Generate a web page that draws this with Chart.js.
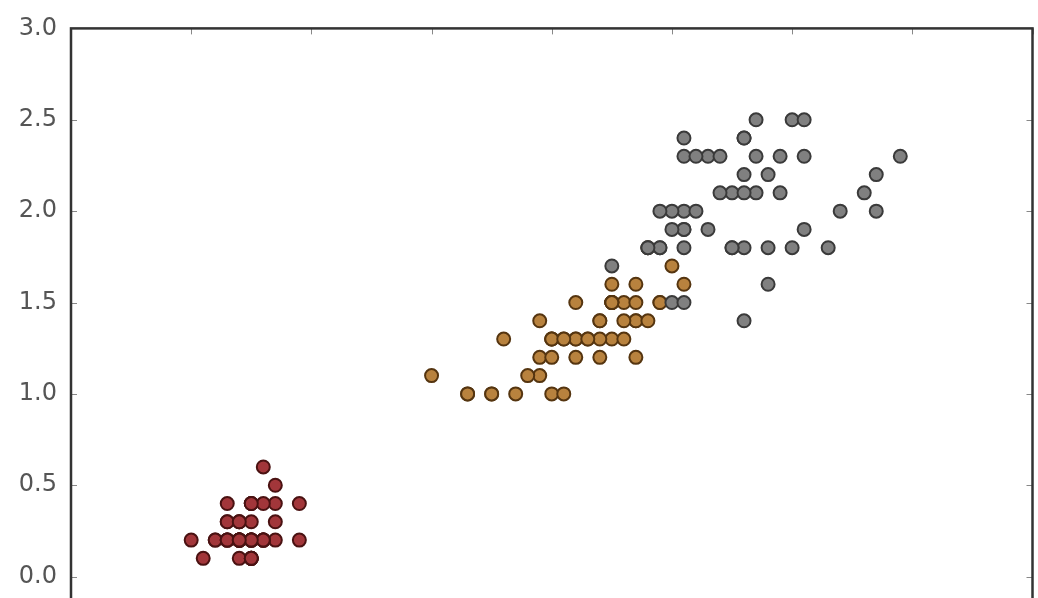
<!DOCTYPE html>
<html>
<head>
<meta charset="utf-8">
<script src="https://cdn.jsdelivr.net/npm/chart.js@4/dist/chart.umd.min.js"></script>
<style>
  html, body { margin: 0; padding: 0; background: #fff; overflow: hidden; }
  #wrap { width: 1038px; height: 598px; overflow: hidden; }
</style>
</head>
<body>
<div id="wrap"><canvas id="irisChart" width="1041" height="720"></canvas></div>
<script>
// petal length / petal width (iris)
const setosaLength = [1.4,1.4,1.3,1.5,1.4,1.7,1.4,1.5,1.4,1.5,1.5,1.6,1.4,1.1,1.2,1.5,1.3,1.4,1.7,1.5,1.7,1.5,1.0,1.7,1.9,1.6,1.6,1.5,1.4,1.6,1.6,1.5,1.5,1.4,1.5,1.2,1.3,1.5,1.3,1.5,1.3,1.3,1.3,1.6,1.9,1.4,1.6,1.4,1.5,1.4]
const setosaWidth  = [0.2,0.2,0.2,0.2,0.2,0.4,0.3,0.2,0.2,0.1,0.2,0.2,0.1,0.1,0.2,0.4,0.4,0.3,0.3,0.3,0.2,0.4,0.2,0.5,0.2,0.2,0.4,0.2,0.2,0.2,0.2,0.4,0.1,0.2,0.1,0.2,0.2,0.1,0.2,0.2,0.3,0.3,0.2,0.6,0.4,0.3,0.2,0.2,0.2,0.2]

const versicolorLength = [4.7,4.5,4.9,4.0,4.6,4.5,4.7,3.3,4.6,3.9,3.5,4.2,4.0,4.7,3.6,4.4,4.5,4.1,4.5,3.9,4.8,4.0,4.9,4.7,4.3,4.4,4.8,5.0,4.5,3.5,3.8,3.7,3.9,5.1,4.5,4.5,4.7,4.4,4.1,4.0,4.4,4.6,4.0,3.3,4.2,4.2,4.2,4.3,3.0,4.1]
const versicolorWidth  = [1.4,1.5,1.5,1.3,1.5,1.3,1.6,1.0,1.3,1.4,1.0,1.5,1.0,1.4,1.3,1.4,1.5,1.0,1.5,1.1,1.8,1.3,1.5,1.2,1.3,1.4,1.4,1.7,1.5,1.0,1.1,1.0,1.2,1.6,1.5,1.6,1.5,1.3,1.3,1.3,1.2,1.4,1.2,1.0,1.3,1.2,1.3,1.3,1.1,1.3]

const virginicaLength = [6.0,5.1,5.9,5.6,5.8,6.6,4.5,6.3,5.8,6.1,5.1,5.3,5.5,5.0,5.1,5.3,5.5,6.7,6.9,5.0,5.7,4.9,6.7,4.9,5.7,6.0,4.8,4.9,5.6,5.8,6.1,6.4,5.6,5.1,5.6,6.1,5.6,5.5,4.8,5.4,5.6,5.1,5.1,5.9,5.7,5.2,5.0,5.2,5.4,5.1]
const virginicaWidth  = [2.5,1.9,2.1,1.8,2.2,2.1,1.7,1.8,1.8,2.5,2.0,1.9,2.1,2.0,2.4,2.3,1.8,2.2,2.3,1.5,2.3,2.0,2.0,1.8,2.1,1.8,1.8,1.8,2.1,1.6,1.9,2.0,2.2,1.5,1.4,2.3,2.4,1.8,1.8,2.1,2.4,2.3,1.9,2.3,2.5,2.3,1.9,2.0,2.3,1.8]

const xTicks = [0, 1, 2, 3, 4, 5, 6, 7, 8]
const yTicks = [-0.5, 0.0, 0.5, 1.0, 1.5, 2.0, 2.5, 3.0]

function zip(xs, ys) {
    return xs.map((x, i) => ({ x: x, y: ys[i] }))
}

// matplotlib-like box with inward ticks
const frame = {
    id: 'frame',
    afterDatasetsDraw(chart) {
        const ctx = chart.ctx
        const a = chart.chartArea
        const xs = chart.scales.x
        const ys = chart.scales.y
        ctx.save()
        ctx.strokeStyle = '#888'
        ctx.lineWidth = 1
        ctx.beginPath()
        xTicks.forEach(v => {
            const px = Math.round(xs.getPixelForValue(v)) + 0.5
            ctx.moveTo(px, a.top); ctx.lineTo(px, a.top + 6)
            ctx.moveTo(px, a.bottom); ctx.lineTo(px, a.bottom - 6)
        })
        yTicks.forEach(v => {
            const py = Math.round(ys.getPixelForValue(v)) + 0.5
            ctx.moveTo(a.left, py); ctx.lineTo(a.left + 6, py)
            ctx.moveTo(a.right, py); ctx.lineTo(a.right - 6, py)
        })
        ctx.stroke()
        ctx.strokeStyle = '#333'
        ctx.lineWidth = 2.5
        ctx.strokeRect(a.left, a.top, a.right - a.left, a.bottom - a.top)
        ctx.restore()
    }
}

const chart = document.getElementById('irisChart')

const data = {
    datasets: [{
        label: 'setosa',
        data: zip(setosaLength, setosaWidth),
        backgroundColor: '#a2363a',
        borderColor: '#4a1212',
        order: 2
    }, {
        label: 'versicolor',
        data: zip(versicolorLength, versicolorWidth),
        backgroundColor: '#b8823e',
        borderColor: '#553510',
        order: 1
    }, {
        label: 'virginica',
        data: zip(virginicaLength, virginicaWidth),
        backgroundColor: '#808080',
        borderColor: '#3a3a3a',
        order: 0
    }]
}

const config = {
    type: 'scatter',
    data: data,
    options: {
        responsive: false,
        animation: false,
        layout: { padding: { top: 27, right: 3, left: 0, bottom: 0 } },
        elements: { point: { radius: 6.5, borderWidth: 2 } },
        plugins: { legend: { display: false }, tooltip: { enabled: false } },
        scales: {
            x: {
                type: 'linear',
                min: 0, max: 8,
                grid: { display: false, drawTicks: false },
                border: { display: false },
                afterBuildTicks: s => { s.ticks = xTicks.map(v => ({ value: v })) },
                afterFit: s => { s.height = 52; s.paddingLeft = 0; s.paddingRight = 0 },
                ticks: { color: '#555', font: { family: 'DejaVu Sans', size: 24 }, padding: 12 }
            },
            y: {
                min: -0.5, max: 3.0,
                grid: { display: false, drawTicks: false },
                border: { display: false },
                afterBuildTicks: s => { s.ticks = yTicks.map(v => ({ value: v })) },
                afterFit: s => { s.width = 71 },
                ticks: {
                    color: '#555',
                    font: { family: 'DejaVu Sans', size: 24 },
                    padding: 14,
                    callback: v => v.toFixed(1)
                }
            }
        }
    },
    plugins: [frame]
}

new Chart(chart, config)
</script>
</body>
</html>
